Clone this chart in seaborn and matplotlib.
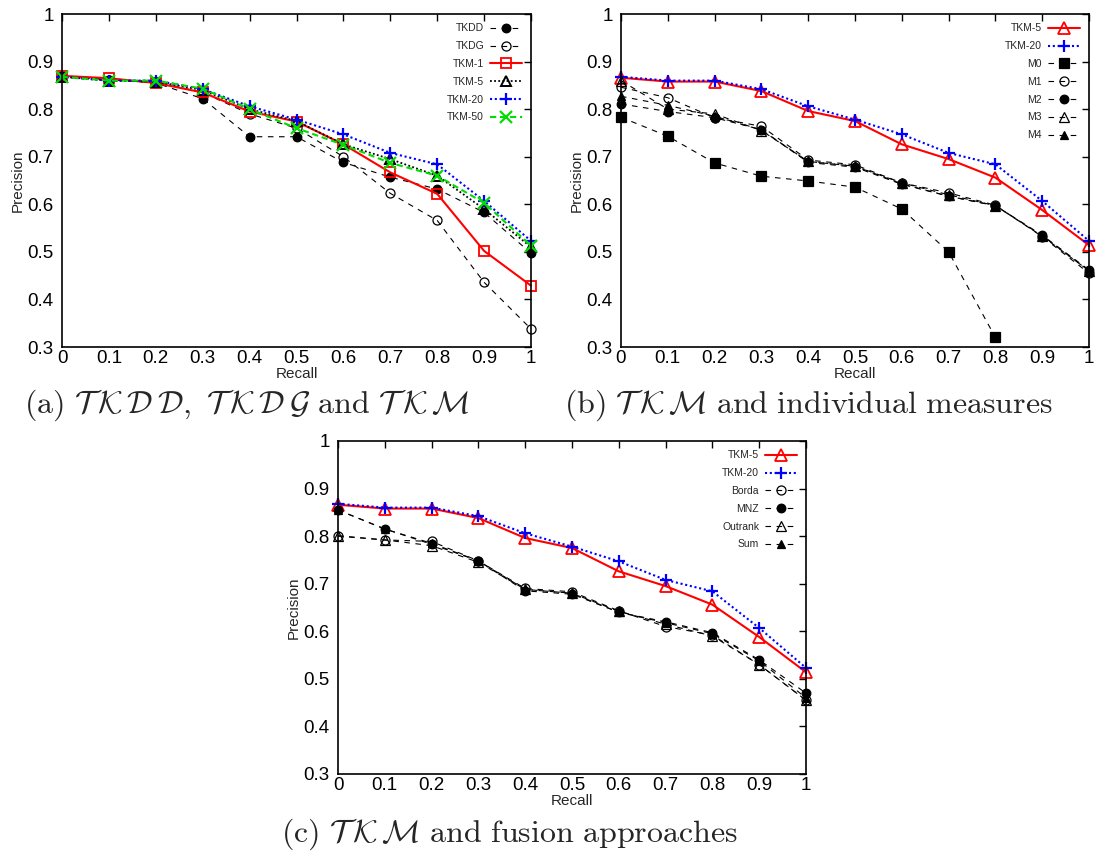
import matplotlib
matplotlib.use("Agg")
import matplotlib.pyplot as plt
import pandas as pd
import seaborn as sns

# ---------------- data ----------------
recall = [0.0, 0.1, 0.2, 0.3, 0.4, 0.5, 0.6, 0.7, 0.8, 0.9, 1.0]
x_ticklabels = ["0", "0.1", "0.2", "0.3", "0.4", "0.5", "0.6", "0.7", "0.8", "0.9", "1"]
y_ticks = [0.3, 0.4, 0.5, 0.6, 0.7, 0.8, 0.9, 1.0]
y_ticklabels = ["0.3", "0.4", "0.5", "0.6", "0.7", "0.8", "0.9", "1"]

# panel (a)
a_tkdd = [0.870, 0.862, 0.855, 0.822, 0.742, 0.742, 0.688, 0.657, 0.632, 0.583, 0.497]
a_tkdg = [0.870, 0.862, 0.857, 0.835, 0.790, 0.760, 0.700, 0.623, 0.566, 0.436, 0.338]
a_tkm1 = [0.870, 0.865, 0.855, 0.835, 0.795, 0.774, 0.726, 0.667, 0.622, 0.502, 0.429]
a_tkm5 = [0.868, 0.860, 0.858, 0.840, 0.800, 0.775, 0.726, 0.695, 0.660, 0.590, 0.510]
a_tkm20 = [0.868, 0.860, 0.860, 0.842, 0.806, 0.778, 0.747, 0.708, 0.684, 0.607, 0.523]
a_tkm50 = [0.868, 0.860, 0.860, 0.843, 0.800, 0.760, 0.725, 0.687, 0.660, 0.603, 0.513]

# panel (b)
b_tkm5 = [0.866, 0.858, 0.858, 0.838, 0.796, 0.775, 0.726, 0.695, 0.656, 0.588, 0.514]
b_tkm20 = [0.868, 0.860, 0.860, 0.842, 0.806, 0.778, 0.747, 0.708, 0.684, 0.607, 0.523]
b_m0 = [0.783, 0.743, 0.687, 0.659, 0.649, 0.636, 0.590, 0.500, 0.320]
b_m1 = [0.846, 0.824, 0.782, 0.764, 0.693, 0.683, 0.645, 0.624, 0.598, 0.532, 0.455]
b_m2 = [0.811, 0.795, 0.782, 0.757, 0.688, 0.678, 0.642, 0.617, 0.597, 0.535, 0.462]
b_m3 = [0.860, 0.800, 0.790, 0.755, 0.690, 0.680, 0.645, 0.620, 0.597, 0.533, 0.460]
b_m4 = [0.827, 0.808, 0.785, 0.756, 0.690, 0.680, 0.643, 0.617, 0.597, 0.534, 0.460]

# panel (c)
c_tkm5 = [0.866, 0.858, 0.858, 0.838, 0.796, 0.775, 0.726, 0.695, 0.656, 0.588, 0.514]
c_tkm20 = [0.868, 0.860, 0.860, 0.842, 0.806, 0.778, 0.747, 0.708, 0.684, 0.607, 0.523]
c_borda = [0.801, 0.792, 0.789, 0.748, 0.690, 0.683, 0.643, 0.610, 0.592, 0.530, 0.455]
c_mnz = [0.855, 0.815, 0.783, 0.748, 0.685, 0.678, 0.640, 0.620, 0.597, 0.540, 0.470]
c_outrank = [0.800, 0.792, 0.780, 0.745, 0.688, 0.680, 0.642, 0.615, 0.590, 0.530, 0.455]
c_sum = [0.855, 0.815, 0.785, 0.748, 0.688, 0.680, 0.640, 0.618, 0.595, 0.538, 0.460]

TKDD = r"\mathcal{T}\:\mathcal{K}\,\mathcal{D}\:\mathcal{D}"
TKDG = r"\mathcal{T}\:\mathcal{K}\,\mathcal{D}\:\mathcal{G}"
TKM = r"\mathcal{T}\:\mathcal{K}\,\mathcal{M}"
captions = [
    r"$\mathrm{(a)\ }" + TKDD + r"\mathrm{,\ }" + TKDG + r"\mathrm{\ and\ }" + TKM + "$",
    r"$\mathrm{(b)\ }" + TKM + r"\mathrm{\ and\ individual\ measures}$",
    r"$\mathrm{(c)\ }" + TKM + r"\mathrm{\ and\ fusion\ approaches}$",
]

# ---------------- styles ----------------
DASH = (0, (5, 5))
BLK = dict(color="black", linewidth=0.8, linestyle=DASH, markeredgecolor="black",
           markeredgewidth=0.9)


def filled(m, ms=6.2):
    return dict(BLK, marker=m, markersize=ms, markerfacecolor="black")


def hollow(m, ms=6.5):
    return dict(BLK, marker=m, markersize=ms, markerfacecolor="none")


RED_SQ = dict(color="red", linewidth=1.5, linestyle="-", marker="s", markersize=7.5,
              markerfacecolor="none", markeredgecolor="red", markeredgewidth=1.3)
RED_TRI = dict(color="red", linewidth=1.5, linestyle="-", marker="^", markersize=8,
               markerfacecolor="none", markeredgecolor="red", markeredgewidth=1.3)
BLK_TRI_DOT = dict(color="black", linewidth=1.3, linestyle=(0, (1, 1.3)), marker="^",
                   markersize=7.5, markerfacecolor="none", markeredgecolor="black",
                   markeredgewidth=1.4)
BLUE_PLUS = dict(color="blue", linewidth=1.5, linestyle=(0, (1, 1.3)), marker="+",
                 markersize=9, markeredgecolor="blue", markeredgewidth=1.6)
GREEN_X = dict(color="#00dd00", linewidth=1.5, linestyle=(0, (3, 1.8)), marker="x",
               markersize=8, markeredgecolor="#00dd00", markeredgewidth=1.6)

panels = [
    [("TKDD", a_tkdd, filled("o")), ("TKDG", a_tkdg, hollow("o")),
     ("TKM-1", a_tkm1, RED_SQ), ("TKM-5", a_tkm5, BLK_TRI_DOT),
     ("TKM-20", a_tkm20, BLUE_PLUS), ("TKM-50", a_tkm50, GREEN_X)],
    [("TKM-5", b_tkm5, RED_TRI), ("TKM-20", b_tkm20, BLUE_PLUS),
     ("M0", b_m0, filled("s", 6.5)), ("M1", b_m1, hollow("o")),
     ("M2", b_m2, filled("o")), ("M3", b_m3, hollow("^")), ("M4", b_m4, filled("^"))],
    [("TKM-5", c_tkm5, RED_TRI), ("TKM-20", c_tkm20, BLUE_PLUS),
     ("Borda", c_borda, hollow("o")), ("MNZ", c_mnz, filled("o")),
     ("Outrank", c_outrank, hollow("^")), ("Sum", c_sum, filled("^"))],
]

# ---------------- figure ----------------
sns.set_style("white")
plt.rcParams["font.family"] = ["Liberation Sans", "DejaVu Sans"]
plt.rcParams["mathtext.fontset"] = "cm"

W, H = 1097, 856
fig = plt.figure(figsize=(W / 100, H / 100), dpi=100)

boxes = [(62, 14, 531, 347), (621, 14, 1089, 347), (338, 441, 806, 774)]
cap_pos = [(247, 405), (808, 405), (509, 834)]

for (l, t, r, b), series, cap, (cx, cy) in zip(boxes, panels, captions, cap_pos):
    ax = fig.add_axes([l / W, 1 - b / H, (r - l) / W, (b - t) / H])
    for label, vals, st in series:
        df = pd.DataFrame({"Recall": recall[:len(vals)], "Precision": vals})
        sns.lineplot(data=df, x="Recall", y="Precision", ax=ax, label=label,
                     errorbar=None, clip_on=False, **st)
    ax.set_xlim(0, 1)
    ax.set_ylim(0.3, 1)
    ax.set_xticks(recall)
    ax.set_xticklabels(x_ticklabels)
    ax.set_yticks(y_ticks)
    ax.set_yticklabels(y_ticklabels)
    ax.tick_params(direction="in", top=True, right=True, length=5, width=1,
                   labelsize=13.5, colors="black")
    ax.tick_params(axis="x", pad=2)
    ax.tick_params(axis="y", pad=6)
    for sp in ax.spines.values():
        sp.set_linewidth(1.2)
        sp.set_color("black")
    ax.set_xlabel("Recall", fontsize=11, labelpad=0)
    ax.set_ylabel("Precision", fontsize=11, labelpad=2)
    ax.legend(loc="upper right", bbox_to_anchor=(1, 1), markerfirst=False,
              frameon=False, fontsize=7.5, handlelength=3, handletextpad=0.6,
              labelspacing=0.75, borderaxespad=0, borderpad=0.9)
    fig.text(cx / W, 1 - cy / H, cap, ha="center", va="center", fontsize=23)

fig.savefig("out.png", dpi=100)
